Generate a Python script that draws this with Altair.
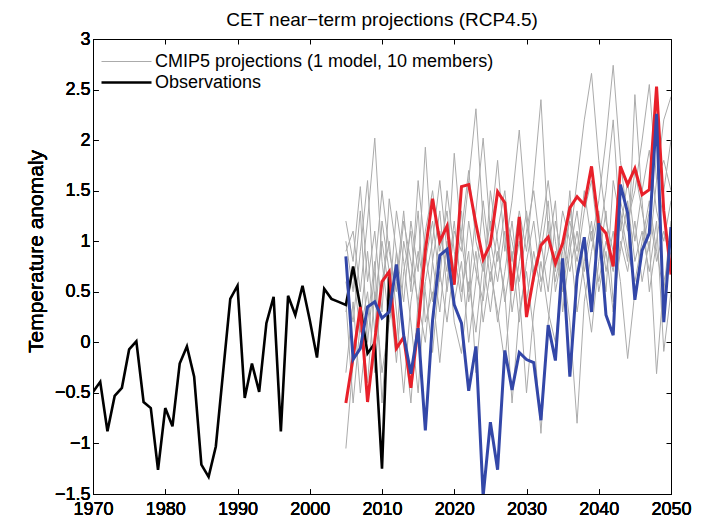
import altair as alt
import pandas as pd

FONT = "Liberation Sans"

# ---------------- data ----------------
obs_years = list(range(1970, 2012))
obs_values = [-0.49, -0.39, -0.88, -0.53, -0.45, -0.07, 0.01, -0.59, -0.65, -1.26,
              -0.65, -0.83, -0.21, -0.04, -0.34, -1.21, -1.33, -1.03, -0.30, 0.43,
              0.56, -0.55, -0.21, -0.49, 0.19, 0.45, -0.88, 0.46, 0.27, 0.56,
              0.22, -0.15, 0.53, 0.43, 0.40, 0.37, 0.75, 0.35, -0.11, -0.01,
              -1.25, 0.65]

proj_years = list(range(2005, 2051))

gray_a = [1.2, 0.8, 1.54, 0.6, 1.1, 0.3, 1.42, 0.9, 0.4, 1.2, 0.7, 1.93, 0.8, 1.3, 0.5, 1.1,
          0.9, 1.6, 2.31, 1.2, 0.6, 1.1, 1.5, 0.8, 1.3, 0.9, 1.6, 2.40, 1.1, 0.7, 1.3, 1.0,
          1.6, 2.2, 2.66, 1.8, 1.2, 0.9, 1.4, 1.1, 1.7, 1.3, 0.9, 1.6, 2.2, 2.43]
gray_b = [-1.05, -0.2, 0.3, -0.4, 0.5, -0.3, 0.2, 0.9, 0.1, -0.6, 0.4, 0.0, 0.8, 0.3, 1.0, 0.2,
          -0.11, 0.6, 0.1, 0.8, 0.3, 0.9, 0.5, -0.6, 0.3, 0.7, 0.1, -0.9, 0.2, 0.9, 0.5, 1.0,
          0.3, 0.8, 1.2, 0.5, 0.9, 0.3, 1.0, 0.7, 1.2, 0.6, 1.0, -0.31, 0.6, 0.9]
gray_c = [0.9, 1.1, 0.5, 1.2, 2.02, 0.8, 0.2, 0.6, 1.3, 0.5, 1.6, 0.9, 0.4, 1.1, 0.7, 1.87,
          1.0, 0.5, 1.3, 2.02, 1.1, 1.8, 0.9, 1.4, 2.10, 1.2, 0.6, 1.1, 1.6, 1.0, 0.5, 1.3,
          0.9, 1.5, 1.0, 1.4, 2.0, 2.74, 1.8, 1.2, 1.5, 2.0, 2.55, 1.6, 1.8, 1.5]
gray_d = [0.6, 0.2, 0.9, 1.6, 0.4, 1.0, 0.5, -0.2, 0.7, 1.1, 0.3, 0.8, 1.2, 0.6, 1.5, 0.9,
          0.4, 1.2, 0.7, 0.41, 1.0, 0.6, 1.1, 0.3, 0.8, 1.3, 0.7, 1.0, 0.5, 1.2, 0.8, 0.2,
          -0.80, 0.4, 0.9, 1.3, 0.7, 1.1, 0.6, -0.16, 0.5, 0.9, 1.3, 0.8, 1.1, 0.8]
gray_e = [0.3, 0.7, 0.1, 0.5, -0.3, 0.6, 1.0, 0.3, -0.5, 0.4, 0.9, 0.5, -0.1, 0.7, 0.2, 0.8,
          1.3, 0.4, 0.9, 0.2, 0.7, 0.3, -0.2, 0.6, 1.0, 0.4, 0.9, 0.5, 1.2, 0.6, 1.0, 0.7,
          1.1, 0.6, 0.1, 0.8, 1.3, 0.4, 0.9, 1.4, 0.8, 1.1, 0.7, 1.2, -0.09, 0.5]
gray_f = [-0.3, 0.4, -0.5, 0.2, 0.8, -0.6, 0.4, 1.3, 0.8, 0.2, -0.5, 0.6, 1.0, 1.6, 0.9, 0.4,
          0.8, 0.0, 0.6, 1.4, 0.8, 0.2, 0.7, 1.2, 0.5, -0.5, 0.3, 0.8, 0.3, 0.0, 0.7, 1.5,
          0.6, 1.0, 0.4, 1.1, 0.5, 1.6, 1.2, 0.8, 2.45, 1.4, 0.5, 1.0, 1.5, 2.0]
gray_g = [0.4, -0.6, 0.2, 0.9, 0.1, 1.2, 0.7, 0.0, 1.0, 0.6, 1.3, 0.2, 0.5, -0.2, 0.6, 1.2,
          0.5, 0.9, -0.3, 0.5, 1.5, 1.0, 0.4, 0.9, 0.2, 0.8, 1.2, 0.6, 0.9, 1.4, 0.3, 0.9,
          1.3, 0.7, 1.1, 0.6, 1.0, 0.7, 1.3, 0.9, 0.6, 1.0, 1.4, 0.9, 0.5, 1.2]
gray_h = [1.0, 0.5, 1.3, 0.0, 0.7, 1.5, 0.9, 0.5, 1.2, 0.8, 0.4, 1.1, 1.5, 0.9, 1.3, 0.6,
          1.1, 1.7, 1.0, 0.7, 1.2, 0.8, 1.3, 1.0, 0.6, 1.1, 1.5, 0.9, 1.4, 0.5, 0.9, 1.2,
          0.8, 1.3, 1.6, 1.0, 1.5, 2.2, 1.1, 1.6, 1.0, 1.5, 1.9, 1.3, 1.0, 1.4]
gray_members = [gray_a, gray_b, gray_c, gray_d, gray_e, gray_f, gray_g, gray_h]

red_member = [-0.60, -0.15, 0.35, -0.59, 0.02, 0.60, 0.70, -0.06, 0.05, -0.45,
              0.15, 0.91, 1.42, 1.00, 1.15, 0.57, 1.54, 1.56, 1.17, 0.82,
              0.97, 1.49, 1.38, 0.51, 1.24, 0.25, 0.65, 0.96, 1.04, 0.78,
              0.98, 1.33, 1.44, 1.36, 1.74, 1.16, 1.08, 0.75, 1.74, 1.56,
              1.72, 1.46, 1.51, 2.53, 1.30, 0.67]
blue_member = [0.85, -0.17, -0.06, 0.35, 0.40, 0.24, 0.30, 0.77, 0.07, -0.31,
               0.14, -0.87, 0.22, 0.86, 0.92, 0.37, 0.19, -0.48, -0.04, -1.52,
               -0.79, -1.26, -0.08, -0.47, -0.10, -0.17, -0.20, -0.77, 0.17, -0.18,
               0.83, -0.34, 0.65, 1.04, 0.30, 1.18, 0.27, 0.07, 1.56, 1.28,
               0.42, 0.91, 1.08, 2.26, 0.20, 1.14]

x_ticks = [1970, 1980, 1990, 2000, 2010, 2020, 2030, 2040, 2050]
y_ticks = [-1.5, -1, -0.5, 0, 0.5, 1, 1.5, 2, 2.5, 3]

CMIP = "CMIP5 projections (1 model, 10 members)"
OBS = "Observations"

gray_rows = []
for m, vals in enumerate(gray_members):
    for yr, v in zip(proj_years, vals):
        gray_rows.append({"year": yr, "value": v, "member": f"m{m}", "kind": CMIP})
gray_df = pd.DataFrame(gray_rows)
obs_df = pd.DataFrame({"year": obs_years, "value": obs_values, "kind": OBS})
red_df = pd.DataFrame({"year": proj_years, "value": red_member})
blue_df = pd.DataFrame({"year": proj_years, "value": blue_member})

# ---------------- chart ----------------
W, H = 578, 455
xscale = alt.Scale(domain=[1970, 2050], nice=False, zero=False)
yscale = alt.Scale(domain=[-1.5, 3], nice=False, zero=False)

x_main = alt.X("year:Q", scale=xscale,
               axis=alt.Axis(orient="bottom", values=x_ticks, format="d", title=None,
                             offset=-5, tickSize=5, domain=False, grid=False,
                             labelFontSize=18, labelFont=FONT, labelColor="black",
                             labelPadding=6, tickColor="black", labelFlush=False))
y_main = alt.Y("value:Q", scale=yscale,
               axis=alt.Axis(orient="left", values=y_ticks, format="~g",
                             title="Temperature anomaly", titleFontSize=21,
                             titleFont=FONT, titleFontWeight="normal", titleColor="black",
                             titlePadding=8, titleY=212, offset=-5, tickSize=5,
                             domain=False, grid=False, labelFontSize=18, labelFont=FONT,
                             labelColor="black", labelPadding=3, tickColor="black",
                             labelFlush=False))

x_ghost = alt.X("year:Q", scale=xscale,
                axis=alt.Axis(orient="top", values=x_ticks, labels=False, title=None,
                              offset=-5, tickSize=5, domain=False, grid=False,
                              tickColor="black"))
y_ghost = alt.Y("value:Q", scale=yscale,
                axis=alt.Axis(orient="right", values=y_ticks, labels=False, title=None,
                              offset=-5, tickSize=5, domain=False, grid=False,
                              tickColor="black"))

legend = alt.Legend(title=None, orient="none", legendX=22, legendY=12,
                    symbolType="M-2.5,0H2.5", symbolSize=400, labelFontSize=18,
                    labelFont=FONT, labelColor="black", labelOffset=17, padding=0,
                    rowPadding=0, labelLimit=500)
color = alt.Color("kind:N", scale=alt.Scale(domain=[CMIP, OBS], range=["#ababab", "#000000"]),
                  legend=legend)
swidth = alt.StrokeWidth("kind:N", scale=alt.Scale(domain=[CMIP, OBS], range=[1.0, 2.6]),
                         legend=legend)

ghost = alt.Chart(obs_df).mark_line(opacity=0).encode(x=x_ghost, y=y_ghost)

gray = alt.Chart(gray_df).mark_line(clip=True).encode(
    x=x_main, y=y_main, color=color, strokeWidth=swidth, detail="member:N")
obs = alt.Chart(obs_df).mark_line(clip=True).encode(
    x=x_main, y=y_main, color=color, strokeWidth=swidth)
red = alt.Chart(red_df).mark_line(clip=True, color="#e8202a", strokeWidth=3).encode(
    x=x_main, y=y_main)
blue = alt.Chart(blue_df).mark_line(clip=True, color="#3347a8", strokeWidth=3).encode(
    x=x_main, y=y_main)

chart = alt.layer(ghost, gray, obs, red, blue).properties(
    width=W, height=H,
    title=alt.TitleParams(text="CET near\u2212term projections (RCP4.5)", fontSize=19,
                          fontWeight="normal", font=FONT, color="black",
                          anchor="middle", offset=0),
    padding={"left": 85, "top": 31, "right": 35, "bottom": 30},
    autosize=alt.AutoSizeParams(type="none"),
).configure_view(stroke="black", strokeWidth=1)

chart.save("out.html", embed_options={"renderer": "svg", "actions": False})
